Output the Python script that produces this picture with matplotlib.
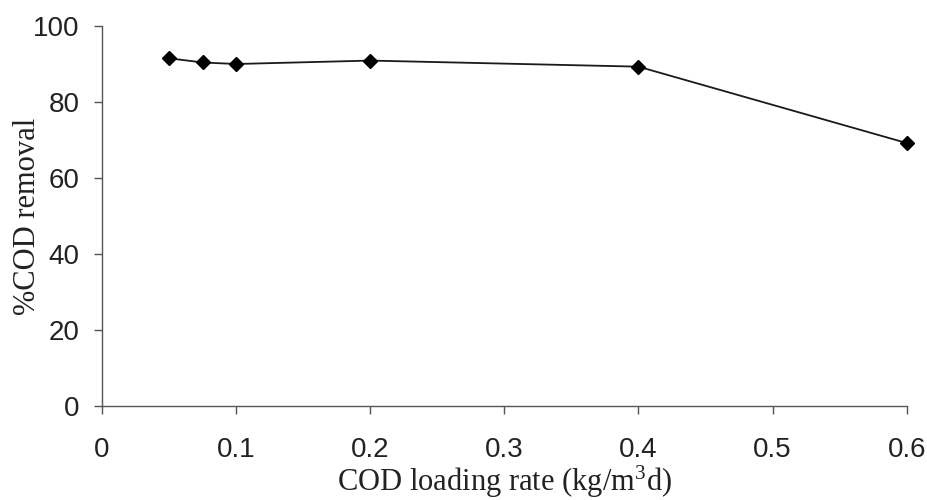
import numpy as np
import matplotlib.pyplot as plt

# Datos
carga = [0.05, 0.075, 0.1, 0.2, 0.4, 0.6]
remocao = [91.5, 90.4, 90.0, 90.9, 89.3, 69.2]
xticks = [0, 0.1, 0.2, 0.3, 0.4, 0.5, 0.6]
xticklabels = ['0', '0.1', '0.2', '0.3', '0.4', '0.5', '0.6']
yticks = [0, 20, 40, 60, 80, 100]

plt.rcParams['mathtext.fontset'] = 'custom'
plt.rcParams['mathtext.rm'] = 'Liberation Serif'
plt.rcParams['mathtext.it'] = 'Liberation Serif:italic'

fig = plt.figure(figsize=(9.28, 5.0), dpi=100)
ax = fig.add_axes([0.110, 0.188, 0.867, 0.76])

ax.plot(carga, remocao, color='#1a1a1a', linewidth=1.3,
        marker='D', markersize=7.5, markerfacecolor='black',
        markeredgecolor='black', clip_on=False)

ax.set_xlim(0, 0.6)
ax.set_ylim(0, 100)
ax.set_xticks(xticks)
ax.set_xticklabels(xticklabels)
ax.set_yticks(yticks)

for lado in ['top', 'right']:
    ax.spines[lado].set_visible(False)
for lado in ['left', 'bottom']:
    ax.spines[lado].set_color('#555555')
    ax.spines[lado].set_linewidth(1.0)

ax.tick_params(axis='both', direction='out', length=6, width=1.0,
               color='#555555', labelsize=20, labelcolor='#222222')
ax.tick_params(axis='x', pad=16)
ax.tick_params(axis='y', pad=10)
for lbl in ax.get_xticklabels() + ax.get_yticklabels():
    lbl.set_fontfamily('Liberation Sans')

# Rotula os eixos
ax.set_xlabel('COD loading rate (kg/m$^\\mathrm{3}$d)', fontsize=22,
              fontfamily='Liberation Serif', color='#222222')
ax.set_ylabel('%COD removal', fontsize=22, fontfamily='Liberation Serif',
              color='#222222')
ax.xaxis.set_label_coords(0.5, -0.152)
ax.yaxis.set_label_coords(-0.075, 0.5)

plt.savefig('out.png', dpi=100)
